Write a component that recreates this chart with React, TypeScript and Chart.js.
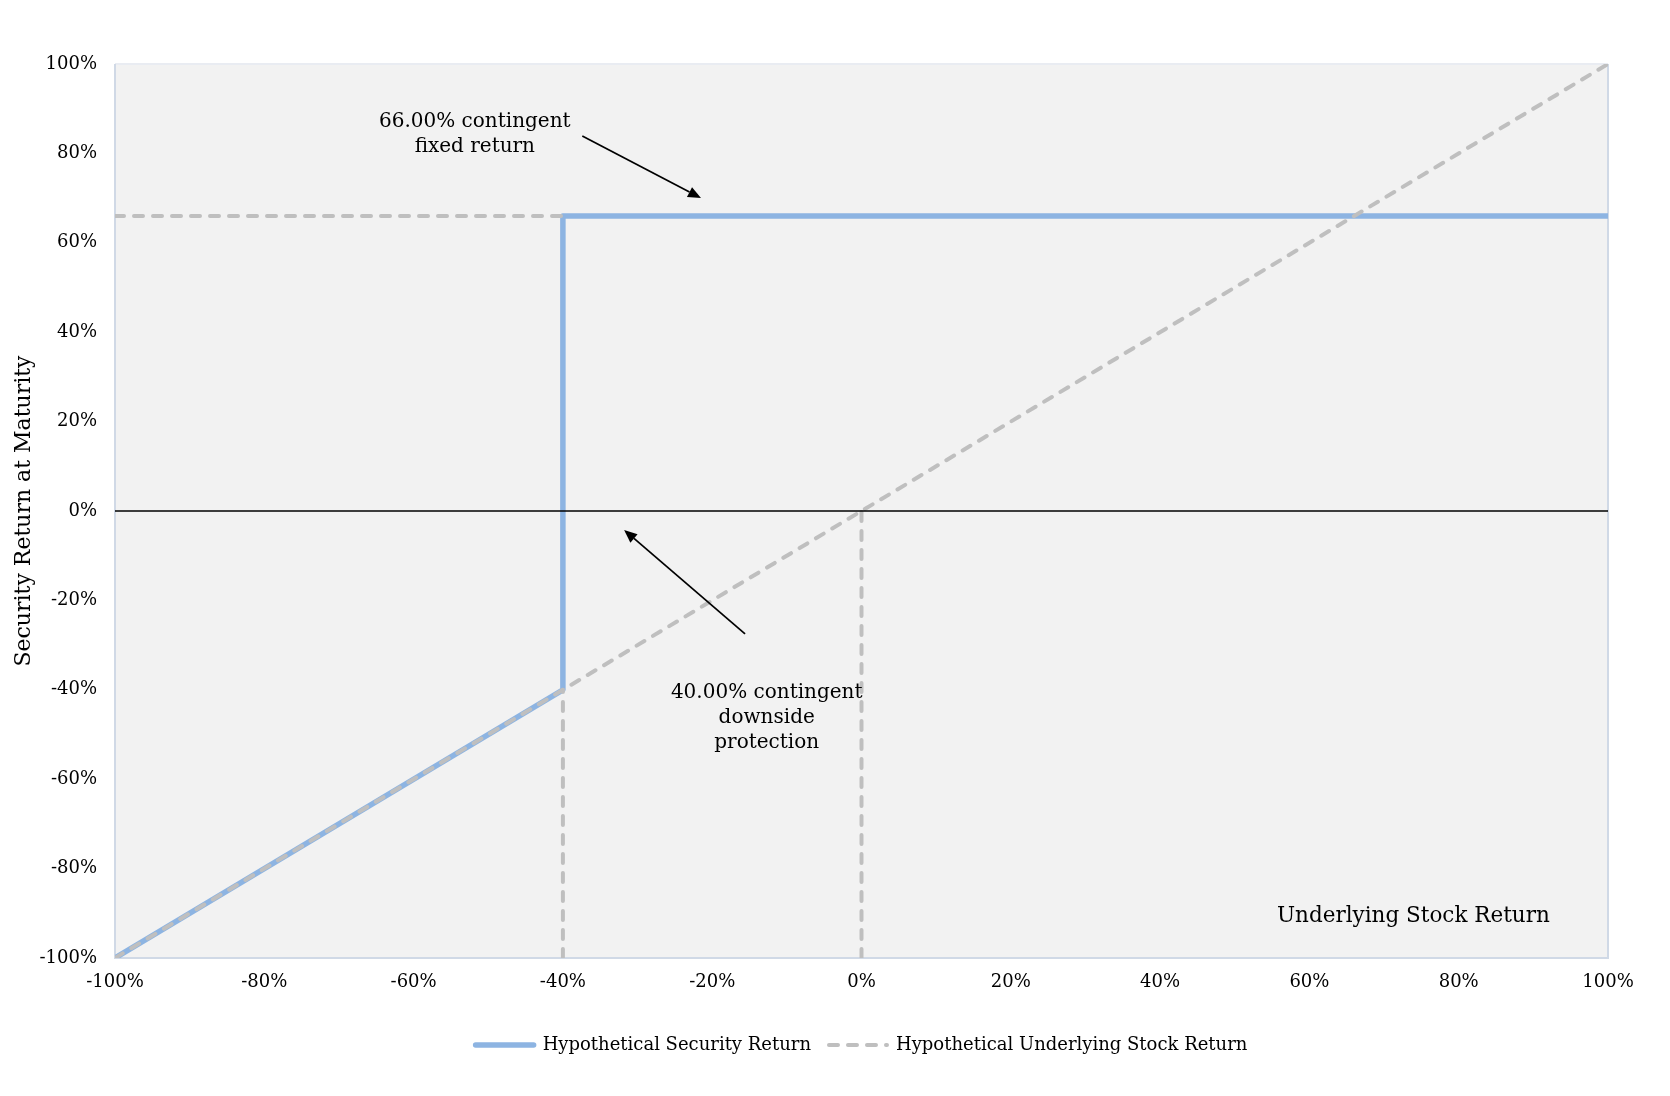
import Chart from "chart.js/auto";
import { useEffect, useRef } from "react";

// series (x = underlying stock return %, y = security return %)
const securityX = [-100, -40, -40, 100];
const securityY = [-100, -40, 66, 66];
const stockX = [-100, 100];
const stockY = [-100, 100];
// grey dashed guide lines
const fixedReturnX = [-100, -40];
const fixedReturnY = [66, 66];
const barrierX = [-40, -40];
const barrierY = [-100, -40];
const parX = [0, 0];
const parY = [-100, 0];

const tickValues = [-100, -80, -60, -40, -20, 0, 20, 40, 60, 80, 100];

const noteLines = [
  ["66.00% contingent", "fixed return"],
  ["40.00% contingent", "downside", "protection"],
];
const noteX = [-51.8, -12.7];
const noteY = [85.9, -41.8];
const arrowFrom = [
  [-37.4, 83.9],
  [-15.6, -27.5],
];
const arrowTo = [
  [-21.5, 70.0],
  [-31.8, -4.25],
];
const axisNote = "Underlying Stock Return";
const axisNoteX = 92.2;
const axisNoteY = -91.9;

const BLUE = "#8db4e2";
const GREY = "#bfbfbf";
const FONT = "'DejaVu Serif', serif";

const toPoints = (xs: number[], ys: number[]) => xs.map((x, i) => ({ x, y: ys[i] }));

const plotDecor = {
  id: "plotDecor",
  beforeDatasetsDraw(chart: any) {
    const { ctx, chartArea: a } = chart;
    ctx.save();
    ctx.fillStyle = "#f2f2f2";
    ctx.fillRect(a.left, a.top, a.right - a.left, a.bottom - a.top);
    ctx.lineWidth = 2;
    ctx.strokeStyle = "#e9ecf2";
    ctx.beginPath();
    ctx.moveTo(a.left, a.top);
    ctx.lineTo(a.right, a.top);
    ctx.stroke();
    ctx.strokeStyle = "#d0d9e6";
    ctx.beginPath();
    ctx.moveTo(a.left, a.top);
    ctx.lineTo(a.left, a.bottom);
    ctx.lineTo(a.right, a.bottom);
    ctx.lineTo(a.right, a.top);
    ctx.stroke();
    ctx.restore();
  },
  afterDatasetsDraw(chart: any) {
    const { ctx, chartArea: a, scales } = chart;
    const xs = scales.x;
    const ys = scales.y;
    ctx.save();
    // zero line
    ctx.strokeStyle = "#000";
    ctx.lineWidth = 1.5;
    ctx.beginPath();
    const y0 = ys.getPixelForValue(0);
    ctx.moveTo(a.left, y0);
    ctx.lineTo(a.right, y0);
    ctx.stroke();

    // arrows
    ctx.fillStyle = "#000";
    ctx.lineWidth = 1.7;
    arrowFrom.forEach((f, i) => {
      const x1 = xs.getPixelForValue(f[0]);
      const y1 = ys.getPixelForValue(f[1]);
      const x2 = xs.getPixelForValue(arrowTo[i][0]);
      const y2 = ys.getPixelForValue(arrowTo[i][1]);
      const ang = Math.atan2(y2 - y1, x2 - x1);
      const len = 13;
      const half = 5.5;
      const bx = x2 - Math.cos(ang) * len;
      const by = y2 - Math.sin(ang) * len;
      ctx.beginPath();
      ctx.moveTo(x1, y1);
      ctx.lineTo(bx, by);
      ctx.stroke();
      ctx.beginPath();
      ctx.moveTo(x2, y2);
      ctx.lineTo(bx + Math.sin(ang) * half, by - Math.cos(ang) * half);
      ctx.lineTo(bx - Math.sin(ang) * half, by + Math.cos(ang) * half);
      ctx.closePath();
      ctx.fill();
    });

    // notes
    ctx.font = `20px ${FONT}`;
    ctx.textAlign = "center";
    ctx.textBaseline = "alphabetic";
    noteLines.forEach((lines, i) => {
      const cx = xs.getPixelForValue(noteX[i]);
      const cy = ys.getPixelForValue(noteY[i]);
      lines.forEach((t, j) => ctx.fillText(t, cx, cy + j * 25));
    });

    ctx.font = `21.5px ${FONT}`;
    ctx.textAlign = "right";
    ctx.fillText(axisNote, xs.getPixelForValue(axisNoteX), ys.getPixelForValue(axisNoteY));
    ctx.restore();
  },
};

export default function App() {
  const canvasRef = useRef<HTMLCanvasElement>(null);

  useEffect(() => {
    if (!canvasRef.current) return;
    Chart.defaults.font.family = FONT;
    Chart.defaults.color = "#000";

    const guide = {
      borderColor: GREY,
      borderWidth: 4,
      borderDash: [9, 10],
      borderCapStyle: "round" as const,
      pointRadius: 0,
      showLine: true,
      order: 1,
    };

    const chart = new Chart(canvasRef.current, {
      type: "scatter",
      data: {
        datasets: [
          {
            label: "Hypothetical Security Return",
            data: toPoints(securityX, securityY),
            borderColor: BLUE,
            backgroundColor: BLUE,
            borderWidth: 5.5,
            borderJoinStyle: "round",
            borderCapStyle: "round",
            pointRadius: 0,
            pointStyle: "line",
            showLine: true,
            order: 3,
          },
          {
            label: "Hypothetical Underlying Stock Return",
            data: toPoints(stockX, stockY),
            backgroundColor: GREY,
            pointStyle: "line",
            ...guide,
          },
          { label: "fixed", data: toPoints(fixedReturnX, fixedReturnY), ...guide },
          { label: "barrier", data: toPoints(barrierX, barrierY), ...guide },
          { label: "par", data: toPoints(parX, parY), ...guide },
        ],
      },
      options: {
        animation: false,
        responsive: true,
        maintainAspectRatio: false,
        layout: { padding: { top: 64, right: 62, bottom: 32, left: 0 } },
        plugins: {
          tooltip: { enabled: false },
          legend: {
            position: "bottom",
            fullSize: false,
            labels: {
              usePointStyle: true,
              pointStyleWidth: 58,
              padding: 18,
              font: { size: 18 },
              color: "#000",
              filter: (item: any) => item.datasetIndex < 2,
              sort: (a: any, b: any) => a.datasetIndex - b.datasetIndex,
              generateLabels: (c: any) =>
                Chart.defaults.plugins.legend.labels.generateLabels(c).map((item: any) => {
                  const ds: any = c.data.datasets[item.datasetIndex];
                  return {
                    ...item,
                    lineWidth: ds.borderWidth,
                    lineDash: ds.borderDash || [],
                    lineCap: ds.borderCapStyle || "butt",
                    strokeStyle: ds.borderColor,
                  };
                }),
            },
          },
        },
        scales: {
          x: {
            type: "linear",
            min: -100,
            max: 100,
            afterBuildTicks: (scale: any) => {
              scale.ticks = tickValues.map((v) => ({ value: v }));
            },
            afterFit: (scale: any) => {
              scale.height = 60;
            },
            grid: { display: false, drawTicks: false },
            border: { display: false },
            ticks: {
              padding: 14,
              font: { size: 18 },
              color: "#000",
              callback: (v: any) => `${v}%`,
            },
          },
          y: {
            type: "linear",
            min: -100,
            max: 100,
            afterBuildTicks: (scale: any) => {
              scale.ticks = tickValues.map((v) => ({ value: v }));
            },
            afterFit: (scale: any) => {
              scale.width = 115;
            },
            grid: { display: false, drawTicks: false },
            border: { display: false },
            title: {
              display: true,
              text: "Security Return at Maturity",
              font: { size: 22 },
              color: "#000",
              padding: { top: 11, bottom: 0 },
            },
            ticks: {
              padding: 18,
              font: { size: 18 },
              color: "#000",
              callback: (v: any) => `${v}%`,
            },
          },
        },
      },
      plugins: [plotDecor],
    });

    return () => {
      chart.destroy();
    };
  }, []);

  return (
    <div style={{ position: "absolute", left: 0, top: 0, width: 1670, height: 1096, background: "#fff" }}>
      <canvas ref={canvasRef}></canvas>
    </div>
  );
}
